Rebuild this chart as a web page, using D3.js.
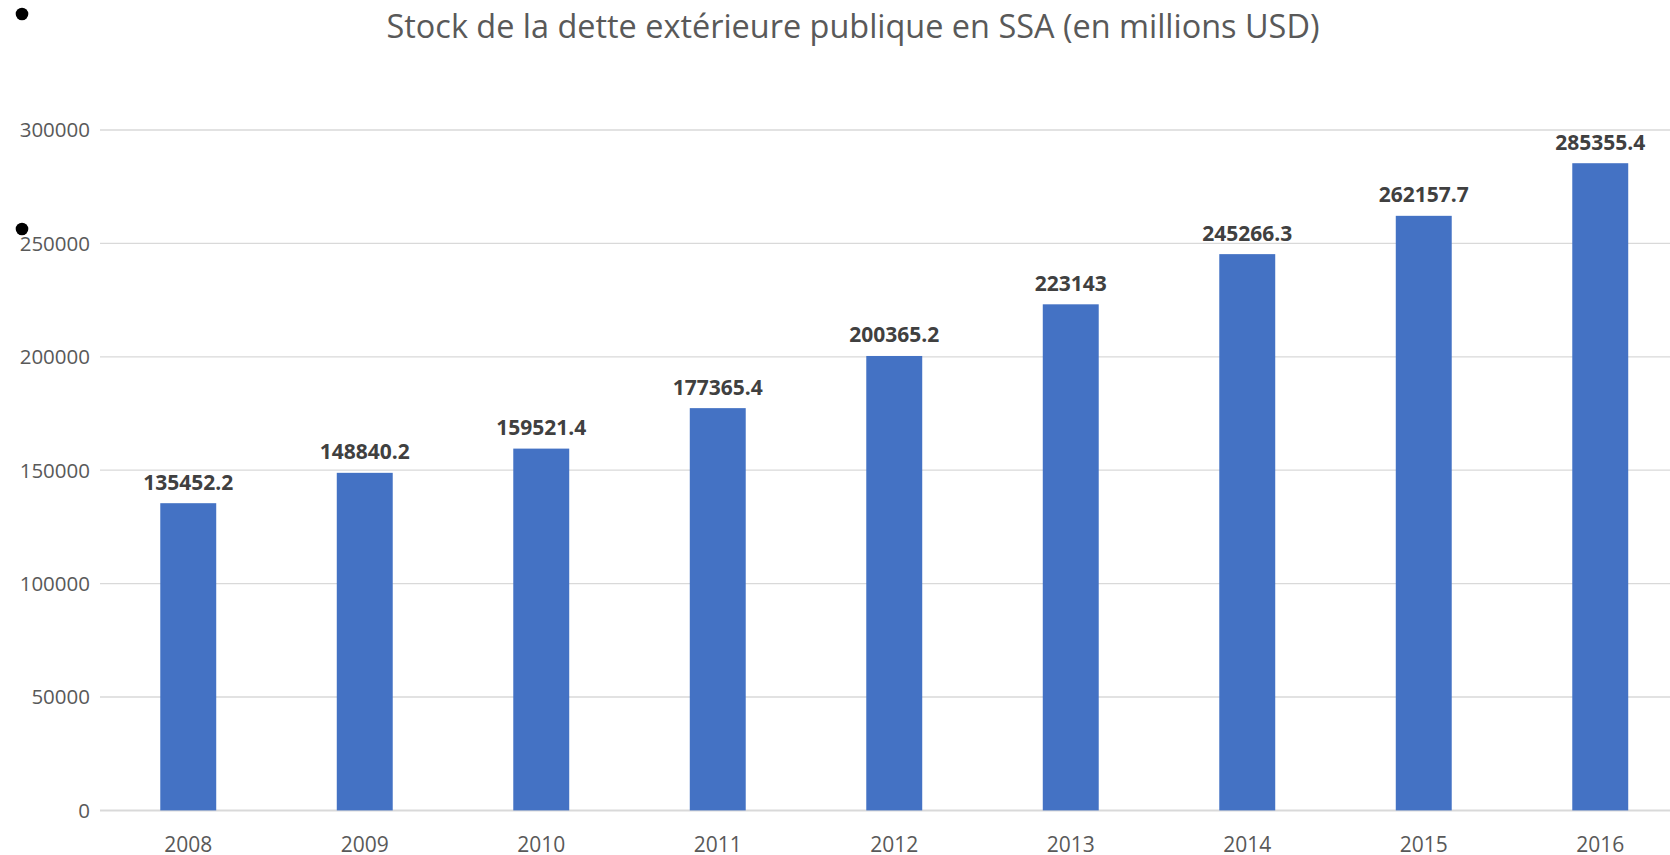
<!DOCTYPE html>
<html>
<head>
<meta charset="utf-8">
<script src="https://cdn.jsdelivr.net/npm/d3@7"></script>
<style>
  html, body { margin: 0; padding: 0; background: #fff; overflow: hidden; }
  svg { display: block; }
</style>
</head>
<body>
<script>
const years = ["2008", "2009", "2010", "2011", "2012", "2013", "2014", "2015", "2016"];
const debtStock = [135452.2, 148840.2, 159521.4, 177365.4, 200365.2, 223143, 245266.3, 262157.7, 285355.4];
const valueLabels = ["135452.2", "148840.2", "159521.4", "177365.4", "200365.2", "223143", "245266.3", "262157.7", "285355.4"];
const yTicks = [0, 50000, 100000, 150000, 200000, 250000, 300000];
const titleText = "Stock de la dette extérieure publique en SSA (en millions USD)";

const W = 1670, H = 855;
const svg = d3.select("body").append("svg").attr("width", W).attr("height", H);
const font = "'Open Sans', 'Noto Sans', sans-serif";

const x = d3.scaleBand().domain(years).range([100, 1688.5]).paddingInner(0.683).paddingOuter(0.3415);
const y = d3.scaleLinear().domain([0, 300000]).range([810.4, 130]);

// gridlines
svg.append("g").selectAll("line").data(yTicks).join("line")
  .attr("x1", 100).attr("x2", W)
  .attr("y1", d => y(d)).attr("y2", d => y(d))
  .attr("stroke", "#d9d9d9")
  .attr("stroke-width", d => d === 0 ? 2 : 1.3);

// y tick labels
svg.append("g").selectAll("text").data(yTicks).join("text")
  .attr("x", 90).attr("y", d => y(d)).attr("dy", "0.36em")
  .attr("text-anchor", "end")
  .attr("font-family", font).attr("font-size", 20.5).attr("fill", "#595959")
  .text(d => d3.format("d")(d));

// bars
svg.append("g").selectAll("rect").data(debtStock).join("rect")
  .attr("x", (d, i) => x(years[i]))
  .attr("width", x.bandwidth())
  .attr("y", d => y(d))
  .attr("height", d => y(0) - y(d))
  .attr("fill", "#4472c4");

// data labels
svg.append("g").selectAll("text").data(debtStock).join("text")
  .attr("x", (d, i) => x(years[i]) + x.bandwidth() / 2)
  .attr("y", d => y(d) - 13.5)
  .attr("text-anchor", "middle")
  .attr("font-family", font).attr("font-size", 21).attr("font-weight", "bold").attr("fill", "#404040")
  .text((d, i) => valueLabels[i]);

// x labels
svg.append("g").selectAll("text").data(years).join("text")
  .attr("x", d => x(d) + x.bandwidth() / 2)
  .attr("y", 852)
  .attr("text-anchor", "middle")
  .attr("font-family", font).attr("font-size", 21).attr("fill", "#595959")
  .text(d => d);

// title
svg.append("text")
  .attr("x", 853).attr("y", 37.5)
  .attr("text-anchor", "middle")
  .attr("font-family", font).attr("font-size", 33).attr("fill", "#595959")
  .attr("textLength", 933).attr("lengthAdjust", "spacingAndGlyphs")
  .text(titleText);

// bullet marks at left
svg.append("g").selectAll("circle").data([14, 229]).join("circle")
  .attr("cx", 22).attr("cy", d => d).attr("r", 6.3).attr("fill", "#000");
</script>
</body>
</html>
